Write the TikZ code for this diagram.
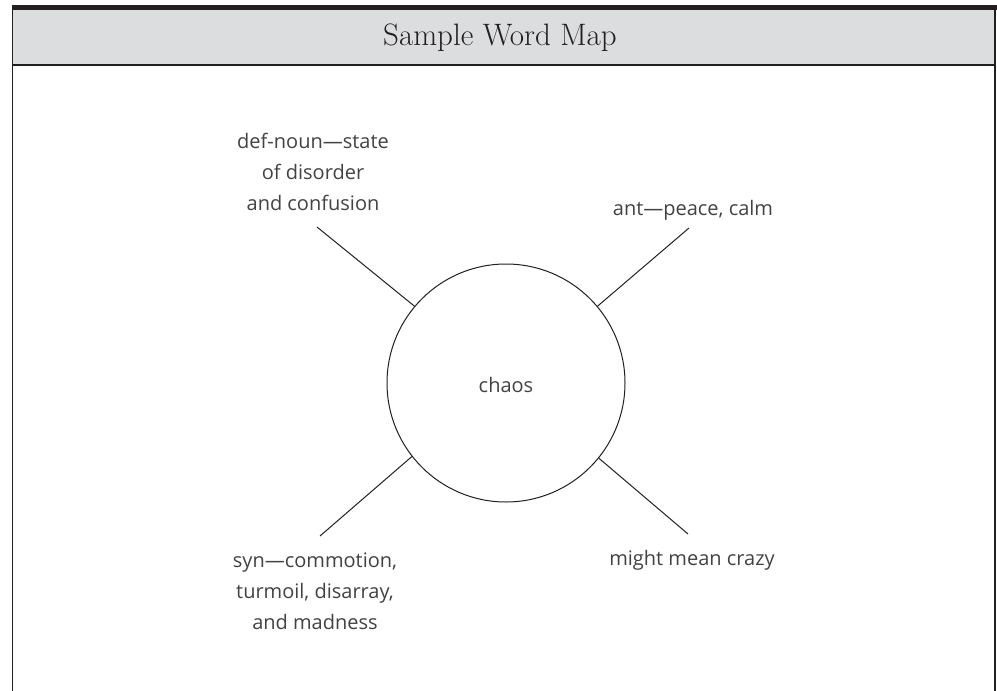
\documentclass[tikz,border=0pt]{standalone}
\usepackage{fontspec}
\newfontfamily\hand{Open Sans}
\definecolor{titlegray}{HTML}{DCDDDE}
\definecolor{inkc}{HTML}{231F20}
\begin{document}
\begin{tikzpicture}[x=1pt,y=-1pt,
  lbl/.style={font=\hand\fontsize{20}{31}\selectfont, text=inkc!85, align=center, inner sep=0pt},
  spoke/.style={draw=inkc, line width=1pt},
  frame/.style={draw=inkc, line width=1.6pt}]
\useasboundingbox (0,0) rectangle (997,691);
\fill[titlegray] (12.5,10) rectangle (995,65);
\fill[inkc] (12,5) rectangle (996.5,10);
\draw[frame] (12.5,10) -- (12.5,691);
\draw[frame] (995,10) -- (995,691);
\draw[draw=inkc, line width=2pt] (12.5,65) -- (995,65);
\node[font=\fontsize{31}{34}\selectfont, text=inkc, inner sep=0pt] (title) at (500,38) {Sample Word Map};
\node[circle, draw=inkc, line width=1pt, minimum size=238pt, inner sep=0pt] (c) at (506,383) {};
\node[lbl] (chaos) at (506,385) {chaos};
\node[lbl] (def) at (313,172) {def-noun—state\\of disorder\\and confusion};
\node[lbl] (ant) at (693,210) {ant—peace, calm};
\node[lbl] (syn) at (315,591) {syn—commotion,\\turmoil, disarray,\\and madness};
\node[lbl] (might) at (692,560) {might mean crazy};
\coordinate (d1) at (317,227);
\coordinate (a1) at (689,228);
\coordinate (s1) at (320,536);
\coordinate (m1) at (688,534);
\draw[spoke] (d1) -- (c.{180-39.7});
\draw[spoke] (a1) -- (c.{40.3});
\draw[spoke] (s1) -- (c.{180+38.9});
\draw[spoke] (m1) -- (c.{-39.6});
\end{tikzpicture}
\end{document}
